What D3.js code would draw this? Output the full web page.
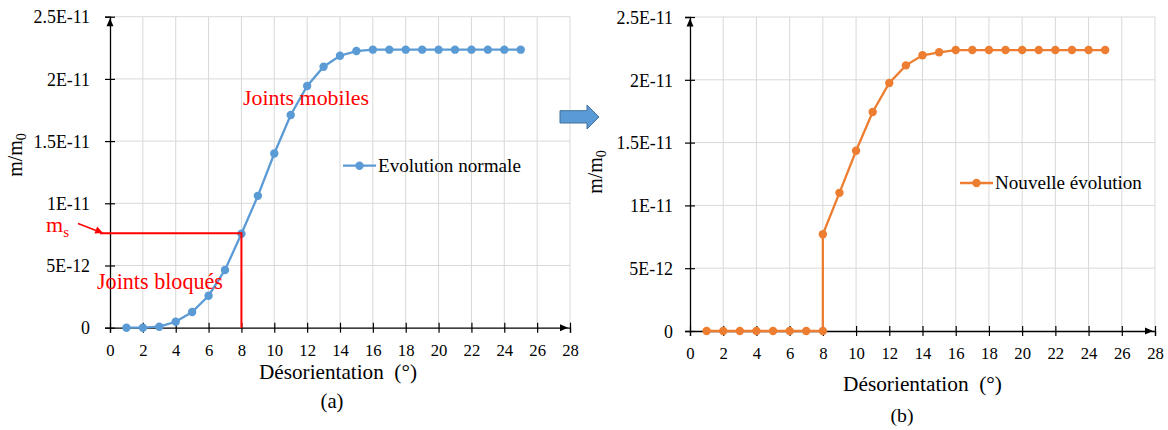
<!DOCTYPE html>
<html><head><meta charset="utf-8">
<script src="https://cdn.jsdelivr.net/npm/d3@7"></script>
<style>body{margin:0;background:#fff}svg{display:block}</style>
</head><body>
<svg id="c" width="1168" height="430"></svg>
<script>
// ---- data ----
const xTicks = [0,2,4,6,8,10,12,14,16,18,20,22,24,26,28];
const yTicks = [0, 5e-12, 1e-11, 1.5e-11, 2e-11, 2.5e-11];
const yTickLabels = ["0","5E-12","1E-11","1.5E-11","2E-11","2.5E-11"];
const leftX = [1,2,3,4,5,6,7,8,9,10,11,12,13,14,15,16,17,18,19,20,21,22,23,24,25];
const leftY = [0,0,0.08,0.48,1.26,2.57,4.64,7.55,10.6,14.0,17.1,19.43,20.98,21.86,22.24,22.35,22.35,22.35,22.35,22.35,22.35,22.35,22.35,22.35,22.35].map(v=>v*1e-12);
const rightX = [1,2,3,4,5,6,7,8,8,9,10,11,12,13,14,15,16,17,18,19,20,21,22,23,24,25];
const rightY = [0,0,0,0,0,0,0,0,7.7,11.0,14.35,17.44,19.75,21.15,21.95,22.19,22.37,22.37,22.37,22.37,22.37,22.37,22.37,22.37,22.37,22.37].map(v=>v*1e-12);
const seriesNames = ["Evolution normale","Nouvelle évolution"];
const msValue = 7.6e-12;
const msX = 8;

const svg = d3.select("#c");
const FONT = "'Liberation Serif', 'Times New Roman', serif";
const BLUE = "#5b9bd5", ORANGE = "#ed7d31", RED = "#ff0000";

// scale a text's font-size so that its rendered width equals target
function fitSize(sel, target){
  const n = sel.node();
  const fs = parseFloat(sel.attr("font-size"));
  const w = n.getBBox().width;
  return w>0 ? fs*target/w : fs;
}

const panels = [
  {xs:leftX, ys:leftY, color:BLUE, name:seriesNames[0], x0:110, x1:570, yb:327.7, yt:16.7,
   tickLabY:28.3, ylabRight:90, titleX:338, titleY:378.5, subX:332, subY:408, sub:"(a)",
   ylabX:22, ylabY:155, legX:343, legY:165.7, legW:143, titleW:158},
  {xs:rightX, ys:rightY, color:ORANGE, name:seriesNames[1], x0:690, x1:1155, yb:331, yt:17,
   tickLabY:28, ylabRight:673, titleX:922.5, titleY:390.5, subX:902, subY:422, sub:"(b)",
   ylabX:601.5, ylabY:172, legX:960, legY:183, legW:147, titleW:159}
];

panels.forEach((p,pi)=>{
  const x = d3.scaleLinear().domain([0,28]).range([p.x0,p.x1]);
  const y = d3.scaleLinear().domain([0,2.5e-11]).range([p.yb,p.yt]);
  p.x = x; p.y = y;
  const g = svg.append("g");
  // grid
  g.append("g").selectAll("line").data(xTicks.filter(d=>d>0)).join("line")
    .attr("x1",d=>x(d)).attr("x2",d=>x(d)).attr("y1",y(2.5e-11)).attr("y2",y(0))
    .attr("stroke","#d9d9d9").attr("stroke-width",1);
  g.append("g").selectAll("line").data(yTicks.filter(d=>d>0)).join("line")
    .attr("x1",x(0)).attr("x2",x(28)).attr("y1",d=>y(d)).attr("y2",d=>y(d))
    .attr("stroke","#d9d9d9").attr("stroke-width",1);
  // x axis
  const xa = g.append("g").attr("transform",`translate(0,${y(0)})`)
    .call(d3.axisBottom(x).tickValues(xTicks).tickFormat(d3.format("d")).tickSizeOuter(0).tickSize(5));
  xa.select(".domain").attr("stroke","#000").attr("stroke-width",1.3);
  xa.selectAll(".tick line").attr("y1",-5).attr("y2",5).attr("stroke","#000").attr("stroke-width",1.2);
  const xt = xa.selectAll(".tick text").attr("y",p.tickLabY).attr("dy",null)
    .attr("font-family",FONT).attr("font-size",17).attr("fill","#000");
  const x10 = xt.filter(d=>d===10);
  const xfs = fitSize(x10, 16.7);
  xt.attr("font-size",xfs);
  // y axis
  const ya = g.append("g").attr("transform",`translate(${x(0)},0)`)
    .call(d3.axisLeft(y).tickValues(yTicks).tickFormat((d,i)=>yTickLabels[i]).tickSizeOuter(0).tickSize(5));
  ya.select(".domain").attr("stroke","#000").attr("stroke-width",1.3);
  ya.selectAll(".tick line").attr("x1",-5).attr("x2",5).attr("stroke","#000").attr("stroke-width",1.2);
  const yt = ya.selectAll(".tick text").attr("x",p.ylabRight - x(0)).attr("dy",null)
    .attr("font-family",FONT).attr("font-size",17).attr("fill","#000");
  const yfs = fitSize(yt.filter(d=>d===1e-11), 43);
  yt.attr("font-size",yfs).attr("y",yfs*0.35);
  // arrowheads
  const xa0 = x(0), ytop = y(2.5e-11);
  g.append("path").attr("d",`M${xa0},${ytop+1.5} L${xa0-3.5},${ytop+9.5} L${xa0+3.5},${ytop+9.5} Z`).attr("fill","#000");
  const xr = x(28)-2, yb = y(0);
  g.append("path").attr("d",`M${xr},${yb} L${xr-8},${yb-3.5} L${xr-8},${yb+3.5} Z`).attr("fill","#000");
  // series
  const pts = p.xs.map((d,i)=>[d,p.ys[i]]);
  g.append("path").datum(pts)
    .attr("d",d3.line().x(d=>x(d[0])).y(d=>y(d[1])).curve(d3.curveLinear))
    .attr("fill","none").attr("stroke",p.color).attr("stroke-width",2.3);
  g.append("g").selectAll("circle").data(pts).join("circle")
    .attr("cx",d=>x(d[0])).attr("cy",d=>y(d[1])).attr("r",4.2).attr("fill",p.color);
  // legend
  g.append("line").attr("x1",p.legX).attr("x2",p.legX+33).attr("y1",p.legY).attr("y2",p.legY)
    .attr("stroke",p.color).attr("stroke-width",2.3);
  g.append("circle").attr("cx",p.legX+16.5).attr("cy",p.legY).attr("r",4.2).attr("fill",p.color);
  const lt = g.append("text").attr("x",p.legX+35).attr("y",p.legY)
    .attr("font-family",FONT).attr("font-size",18).text(p.name);
  const lfs = fitSize(lt, p.legW);
  lt.attr("font-size",lfs).attr("y",p.legY + lfs*0.33);
  // axis titles
  const tt = g.append("text").attr("x",p.titleX).attr("y",p.titleY).attr("text-anchor","middle")
    .attr("font-family",FONT).attr("font-size",19).attr("fill","#000")
    .attr("xml:space","preserve").style("white-space","pre").text("Désorientation  (°)");
  tt.attr("font-size",fitSize(tt,p.titleW));
  const yl = g.append("text").attr("transform",`translate(${p.ylabX},${p.ylabY}) rotate(-90)`)
    .attr("text-anchor","middle").attr("font-family",FONT).attr("font-size",20).attr("fill","#000");
  yl.append("tspan").text("m/m");
  yl.append("tspan").attr("font-size",14).attr("dy",4).text("0");
  const st = g.append("text").attr("x",p.subX).attr("y",p.subY).attr("text-anchor","middle")
    .attr("font-family",FONT).attr("font-size",19).attr("fill","#000").text(p.sub);
  st.attr("font-size",fitSize(st,23));
});

// annotations on left panel
const L = panels[0];
const ga = svg.append("g");
ga.append("path")
  .attr("d",`M${L.x(0)-10},${L.y(msValue)} H${L.x(msX)} V${L.y(0)}`)
  .attr("fill","none").attr("stroke",RED).attr("stroke-width",2);
const t1 = ga.append("text").attr("x",243).attr("y",105).attr("font-family",FONT).attr("font-size",21)
  .attr("fill",RED).text("Joints mobiles");
t1.attr("font-size",fitSize(t1,126));
const t2 = ga.append("text").attr("x",97).attr("y",289).attr("font-family",FONT).attr("font-size",21)
  .attr("fill",RED).text("Joints bloqués");
t2.attr("font-size",fitSize(t2,126));
const ms = ga.append("text").attr("x",46).attr("y",232).attr("font-family",FONT).attr("font-size",22).attr("fill",RED);
ms.append("tspan").text("m");
ms.append("tspan").attr("font-size",15).attr("dy",5).text("s");
// small red arrow
ga.append("line").attr("x1",78).attr("y1",223.5).attr("x2",96).attr("y2",230.5)
  .attr("stroke",RED).attr("stroke-width",1.5);
ga.append("path").attr("d","M103,233 L94.5,233.5 L97.2,226.5 Z").attr("fill",RED);

// block arrow between panels
svg.append("path")
  .attr("d","M560,110.7 H587 V105 L599,117 L587,129 V123 H560 Z")
  .attr("fill",BLUE).attr("stroke","#41719c").attr("stroke-width",1);
</script>
</body></html>
